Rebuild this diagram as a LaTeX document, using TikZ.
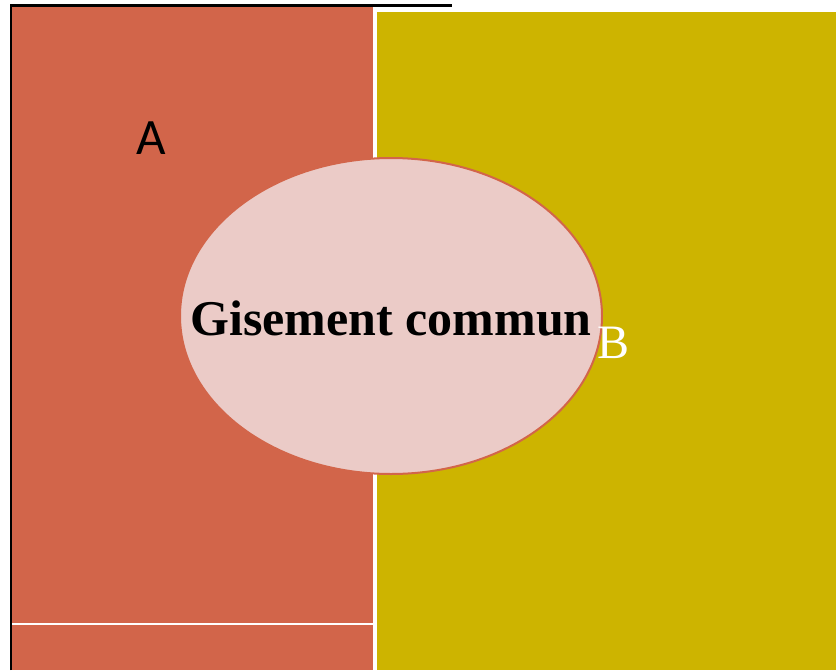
\documentclass[tikz,border=0pt]{standalone}
\usepackage{fontspec}
\setmainfont{Liberation Serif}
\newfontfamily\lettrefont{Carlito}
\usetikzlibrary{shapes.geometric}

\definecolor{brique}{HTML}{D2654A}
\definecolor{moutarde}{HTML}{CDB400}
\definecolor{rosepale}{HTML}{EBCBC7}

\begin{document}
\begin{tikzpicture}[x=1pt, y=-1pt,
        zone/.style={ellipse, draw=brique, line width=2pt, fill=rosepale,
                minimum width=422pt, minimum height=316pt, inner sep=0pt}]
        \useasboundingbox (0, 0) rectangle (836, 670);
        % the two deposits
        \fill[brique] (12, 6) rectangle (373, 670);
        \fill[moutarde] (377, 12) rectangle (836, 670);
        \draw[white, line width=1.2pt] (12, 624) -- (373, 624);
        \draw[line width=2.5pt] (11, 670) -- (11, 5.5) -- (452, 5.5);
        % shared part
        \node[zone] (commun) at (391, 316) {};
        \node (gisement) at (391, 318) {\fontsize{50}{60}\selectfont\bfseries Gisement commun};
        \node (a) at (151, 138) {\lettrefont\fontsize{51}{60}\selectfont A};
        \node[white] (b) at (614, 343) {\fontsize{48}{56}\selectfont B};
\end{tikzpicture}
\end{document}
